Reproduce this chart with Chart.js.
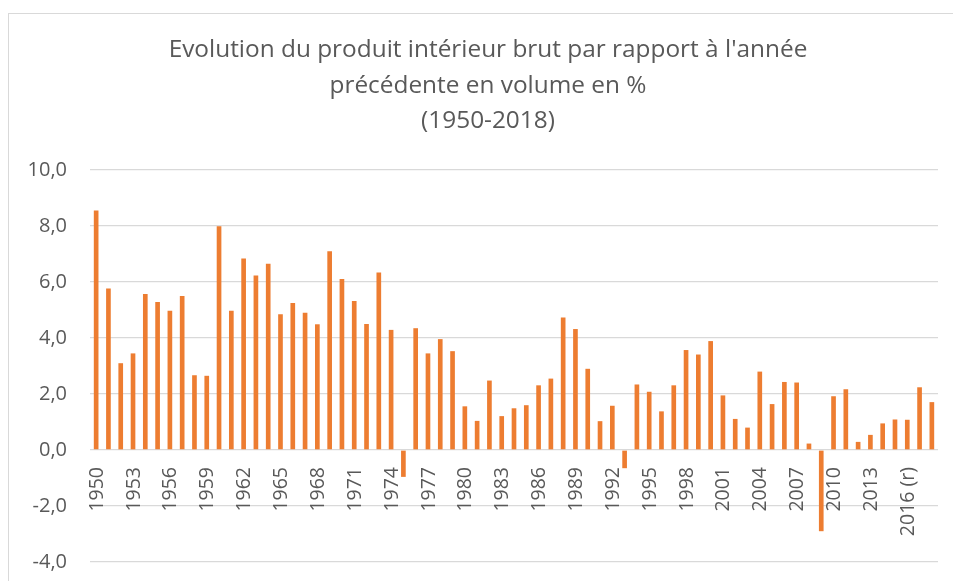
<!DOCTYPE html>
<html>
<head>
<meta charset="utf-8">
<script src="https://cdn.jsdelivr.net/npm/chart.js@4"></script>
<style>
  html, body { margin: 0; padding: 0; background: #fff; overflow: hidden; }
  #frame {
    position: absolute; left: 8px; top: 13px;
    width: 960px; height: 600px;
    border: 1px solid #d9d9d9;
  }
  canvas { display: block; }
</style>
</head>
<body>
<div id="frame"><canvas id="pib" width="958" height="600"></canvas></div>
<script>
// Categories (years); the 2016 one carries the "(r)" note
const years = [
  "1950","1951","1952","1953","1954","1955","1956","1957","1958","1959",
  "1960","1961","1962","1963","1964","1965","1966","1967","1968","1969",
  "1970","1971","1972","1973","1974","1975","1976","1977","1978","1979",
  "1980","1981","1982","1983","1984","1985","1986","1987","1988","1989",
  "1990","1991","1992","1993","1994","1995","1996","1997","1998","1999",
  "2000","2001","2002","2003","2004","2005","2006","2007","2008","2009",
  "2010","2011","2012","2013","2014","2015","2016 (r)","2017","2018"
];

// GDP growth in volume, % vs previous year
const growth = [
  8.55, 5.77, 3.10, 3.45, 5.57, 5.29, 4.97, 5.50, 2.67, 2.65,
  7.99, 4.97, 6.84, 6.23, 6.65, 4.85, 5.25, 4.90, 4.49, 7.10,
  6.11, 5.32, 4.50, 6.34, 4.29, -0.96, 4.35, 3.45, 3.96, 3.53,
  1.56, 1.04, 2.48, 1.21, 1.49, 1.60, 2.31, 2.55, 4.73, 4.32,
  2.90, 1.03, 1.58, -0.65, 2.34, 2.08, 1.38, 2.31, 3.57, 3.41,
  3.89, 1.95, 1.11, 0.80, 2.80, 1.64, 2.43, 2.41, 0.23, -2.90,
  1.92, 2.17, 0.29, 0.54, 0.95, 1.09, 1.08, 2.24, 1.71
];

const titleLines = [
  "Evolution du produit intérieur brut par rapport à l'année",
  "précédente en volume en %",
  "(1950-2018)"
];

const yMin = -4, yMax = 10, yStep = 2;
const labelEvery = 3;

const textGray = "#595959";
const gridGray = "#d9d9d9";
const barOrange = "#ED7D31";
const fontFamily = "'Open Sans', 'Liberation Sans', sans-serif";

// Title centred on the whole frame (not on the plot), like Excel does
const frameTitle = {
  id: "frameTitle",
  afterDraw(chart) {
    const ctx = chart.ctx;
    ctx.save();
    ctx.fillStyle = textGray;
    ctx.font = "24.4px " + fontFamily;
    ctx.textAlign = "center";
    ctx.textBaseline = "middle";
    titleLines.forEach((line, i) => {
      ctx.fillText(line, chart.width / 2, 36.5 + i * 35.5);
    });
    ctx.restore();
  }
};

// Year labels sit just under the 0 line, rotated
const zeroLineLabels = {
  id: "zeroLineLabels",
  afterDatasetsDraw(chart) {
    const xs = chart.scales.x, ys = chart.scales.y;
    const ctx = chart.ctx;
    const y0 = ys.getPixelForValue(0);
    ctx.save();
    ctx.fillStyle = textGray;
    ctx.font = "19.5px " + fontFamily;
    ctx.textAlign = "right";
    ctx.textBaseline = "middle";
    years.forEach((lab, i) => {
      if (i % labelEvery !== 0) return;
      const x = xs.getPixelForValue(i) + 1;
      ctx.save();
      ctx.translate(x, y0 + 17);
      ctx.rotate(-Math.PI / 2);
      ctx.fillText(lab, 0, 0);
      ctx.restore();
    });
    ctx.restore();
  }
};

const ctx = document.getElementById("pib").getContext("2d");
new Chart(ctx, {
  type: "bar",
  data: {
    labels: years,
    datasets: [{
      data: growth,
      backgroundColor: barOrange,
      borderWidth: 0,
      barPercentage: 0.38,
      categoryPercentage: 1
    }]
  },
  options: {
    responsive: false,
    animation: false,
    layout: { padding: { left: 0, right: 29, top: 156, bottom: 52 } },
    plugins: {
      legend: { display: false },
      tooltip: { enabled: false },
      title: { display: false }
    },
    scales: {
      x: { display: false },
      y: {
        min: yMin,
        max: yMax,
        afterFit: (scale) => { scale.width = 81; },
        ticks: {
          stepSize: yStep,
          color: textGray,
          padding: 23,
          font: { family: fontFamily, size: 20 },
          callback: v => v.toFixed(1).replace(".", ",")
        },
        grid: { color: gridGray, lineWidth: 1.3, drawTicks: false },
        border: { display: false }
      }
    }
  },
  plugins: [zeroLineLabels, frameTitle]
});
</script>
</body>
</html>
